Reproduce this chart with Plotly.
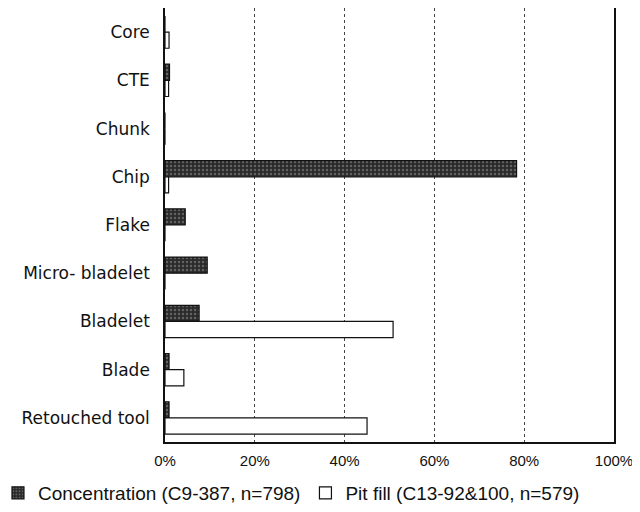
import plotly.graph_objects as go

categories = ["Core", "CTE", "Chunk", "Chip", "Flake", "Micro- bladelet", "Bladelet", "Blade", "Retouched tool"]
concentration = [0, 1.0, 0, 78.3, 4.5, 9.4, 7.6, 0.9, 0.9]
pit_fill = [0.9, 0.8, 0, 0.8, 0, 0, 50.8, 4.2, 45.0]
tick_vals = [0, 20, 40, 60, 80, 100]
tick_text = ["0%", "20%", "40%", "60%", "80%", "100%"]

fig = go.Figure()
fig.add_trace(go.Bar(
    y=categories, x=concentration, orientation="h",
    name="Concentration (C9-387, n=798)",
    marker=dict(color="#3a3a3a", line=dict(color="#111", width=1.2),
                pattern=dict(shape=".", fgcolor="#9a9a9a", bgcolor="#2a2a2a", size=4, solidity=0.3)),
))
fig.add_trace(go.Bar(
    y=categories, x=pit_fill, orientation="h",
    name="Pit fill (C13-92&100, n=579)",
    marker=dict(color="white", line=dict(color="#111", width=1.2)),
))

fig.update_layout(
    width=632, height=504,
    margin=dict(l=157, r=26, t=0, b=70, autoexpand=False),
    paper_bgcolor="white", plot_bgcolor="white",
    barmode="group", bargap=0.33, bargroupgap=0,
    font=dict(family="Liberation Sans, Arial, sans-serif", size=14, color="#111"),
    showlegend=True,
    legend=dict(orientation="h", x=-0.372, y=-0.1175, xanchor="left", yanchor="middle",
                font=dict(size=19, family="Liberation Sans, Arial, sans-serif"),
                itemwidth=30, bgcolor="rgba(0,0,0,0)"),
)
fig.update_xaxes(range=[0, 100], tickvals=tick_vals, ticktext=tick_text,
                 showgrid=True, gridcolor="#444", griddash="dot", gridwidth=1,
                 showline=True, linecolor="#111", linewidth=1.5, mirror=True,
                 zeroline=False, ticks="", ticklabelstandoff=4, automargin=False,
                 tickfont=dict(size=15, family="Liberation Sans, Arial, sans-serif"))
fig.update_yaxes(autorange="reversed", showline=True, linecolor="#111", linewidth=1.5,
                 mirror=True, ticks="", showgrid=False, ticklabelstandoff=10, automargin=False,
                 tickfont=dict(size=17, family="DejaVu Sans, sans-serif"))

fig.write_html("out.html")
